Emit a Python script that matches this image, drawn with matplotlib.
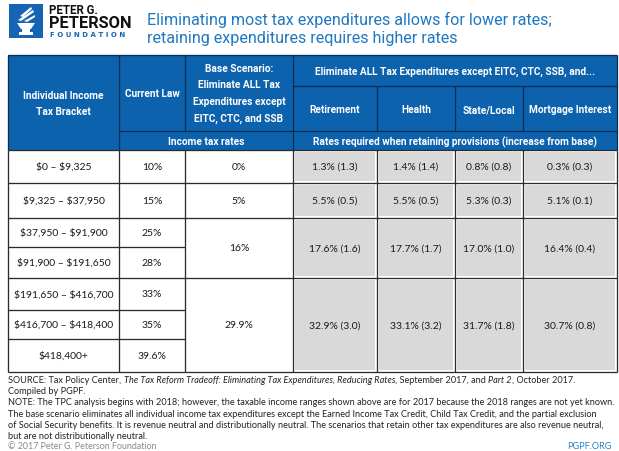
import matplotlib
matplotlib.use("Agg")
import matplotlib.pyplot as plt
from matplotlib.patches import Rectangle, Polygon

# -------------------------
# data
# -------------------------
brackets = ["$0 – $9,325", "$9,325 – $37,950", "$37,950 – $91,900",
            "$91,900 – $191,650", "$191,650 – $416,700",
            "$416,700 – $418,400", "$418,400+"]
current_law = [10, 15, 25, 28, 33, 35, 39.6]

# base scenario rates, and how many brackets each rate covers
base_rates = [0, 5, 16, 29.9]
base_span = [1, 1, 2, 3]

scenarios = ["Retirement", "Health", "State/Local", "Mortgage Interest"]
retirement = [1.3, 5.5, 17.6, 32.9]
health = [1.4, 5.5, 17.7, 33.1]
state_local = [0.8, 5.3, 17.0, 31.7]
mortgage = [0.3, 5.1, 16.4, 30.7]
scenario_rates = [retirement, health, state_local, mortgage]

title = ("Eliminating most tax expenditures allows for lower rates;\n"
         "retaining expenditures requires higher rates")

# -------------------------
# layout (pixels)
# -------------------------
W, H = 619, 452
col_x = [8, 119, 185, 293, 377, 455, 523, 617]
row_y = [151, 184, 219, 248, 279, 311, 340, 373]
head_top = 56

BLUE = "#0d62ad"
TITLE_BLUE = "#1f78c1"
GRAY = "#d9d9d9"
LINE = "#2b2b2b"

narrow = ["Roboto", "DejaVu Sans"]
body = ["Lato", "DejaVu Sans"]

fig = plt.figure(figsize=(W / 100, H / 100), dpi=100)
ax = fig.add_axes([0, 0, 1, 1])
ax.set_xlim(0, W)
ax.set_ylim(H, 0)
ax.axis("off")

px = 0.72  # one pixel in points


def hline(y, x0, x1, c=LINE, lw=1.3):
    ax.plot([x0, x1], [y, y], color=c, lw=lw * px, solid_capstyle="butt")


def vline(x, y0, y1, c=LINE, lw=1.3):
    ax.plot([x, x], [y0, y1], color=c, lw=lw * px, solid_capstyle="butt")


# -------------------------
# logo + title
# -------------------------
ax.add_patch(Rectangle((9, 5), 34, 34, color="#1565b4", lw=0))
# rough torch
ax.add_patch(Polygon([[17, 24], [35, 24], [31, 30], [21, 30]], color="white", lw=0))
ax.add_patch(Rectangle((22, 30), 8, 2.5, color="white", lw=0))
ax.add_patch(Rectangle((19, 33), 14, 2.5, color="white", lw=0))
ax.add_patch(Polygon([[18, 21], [33, 11], [34, 13], [21, 22]], color="white", lw=0))
ax.add_patch(Polygon([[20, 17], [31, 8], [32, 10], [23, 18]], color="white", lw=0))
ax.add_patch(Polygon([[24, 22], [35, 16], [35, 18], [27, 23]], color="white", lw=0))

ax.text(49, 11, "PETER G.", fontsize=8.3, fontweight="bold", family=narrow,
        va="center", ha="left", color="#111111")
ax.text(48.5, 23.5, "PETERSON", fontsize=11.8, fontweight="bold", family=narrow,
        va="center", ha="left", color="#111111")
ax.text(49.5, 35, "F O U N D A T I O N", fontsize=5.0, fontweight="bold",
        family=["DejaVu Sans"], va="center", ha="left", color="#1565b4")

ax.text(147, 28.5, title, fontsize=11.6, family=narrow, color=TITLE_BLUE,
        va="center", ha="left", linespacing=1.25)

# -------------------------
# header
# -------------------------
ax.add_patch(Rectangle((col_x[0], head_top), col_x[-1] - col_x[0],
                       row_y[0] - head_top, color=BLUE, lw=0))
hdr = dict(color="white", fontweight="bold", family=narrow, fontsize=7.3,
           ha="center", va="center")

ax.text((col_x[0] + col_x[1]) / 2, 104, "Individual Income\nTax Bracket",
        linespacing=1.85, **hdr)
ax.text((col_x[1] + col_x[2]) / 2, 94, "Current Law", **hdr)
ax.text((col_x[2] + col_x[3]) / 2, 94,
        "Base Scenario:\nEliminate ALL Tax\nExpenditures except\nEITC, CTC, and SSB",
        linespacing=1.85, **hdr)
ax.text((col_x[1] + col_x[3]) / 2, 142, "Income tax rates", **hdr)
ax.text((col_x[3] + col_x[-1]) / 2, 71.5,
        "Eliminate ALL Tax Expenditures except EITC, CTC, SSB, and...", **hdr)
for i, name in enumerate(scenarios):
    ax.text((col_x[3 + i] + col_x[4 + i]) / 2, 110, name, **hdr)
ax.text((col_x[3] + col_x[-1]) / 2, 142,
        "Rates required when retaining provisions (increase from base)", **hdr)

# header grid lines
HL = "#0a2f55"
hline(head_top, col_x[0], col_x[-1], HL)
hline(132, col_x[1], col_x[-1], HL)
hline(87, col_x[3], col_x[-1], HL)
for x in col_x[1:3]:
    vline(x, head_top, 132, HL)
vline(col_x[1], 132, row_y[0], HL)
vline(col_x[3], head_top, row_y[0], HL)
for x in col_x[4:7]:
    vline(x, 87, 132, HL)
vline(col_x[0], head_top, row_y[0], HL)
vline(col_x[-1], head_top, row_y[0], HL)

# -------------------------
# body
# -------------------------
txt = dict(color="#1a1a1a", family=body, fontsize=7.5, ha="center",
           va="center", parse_math=False)

for i, (b, c) in enumerate(zip(brackets, current_law)):
    yc = (row_y[i] + row_y[i + 1]) / 2
    ax.text((col_x[0] + col_x[1]) / 2, yc, b, **txt)
    ax.text((col_x[1] + col_x[2]) / 2, yc, f"{c:g}%", **txt)
    hline(row_y[i + 1], col_x[0], col_x[2])

start = 0
for g, (rate, span) in enumerate(zip(base_rates, base_span)):
    y0, y1 = row_y[start], row_y[start + span]
    yc = (y0 + y1) / 2
    ax.text((col_x[2] + col_x[3]) / 2, yc, f"{rate:g}%", **txt)
    for k, rates in enumerate(scenario_rates):
        x0, x1 = col_x[3 + k], col_x[4 + k]
        ax.add_patch(Rectangle((x0 + 1.8, y0 + 1.8), x1 - x0 - 3.6,
                               y1 - y0 - 3.6, color=GRAY, lw=0))
        inc = rates[g] - rate
        ax.text((x0 + x1) / 2, yc, f"{rates[g]:.1f}% ({inc:.1f})", **txt)
    hline(y1, col_x[2], col_x[-1])
    start += span

for x in col_x:
    vline(x, row_y[0], row_y[-1])
hline(row_y[0], col_x[0], col_x[-1])

# -------------------------
# footnotes
# -------------------------
note = dict(family=body, fontsize=6.6, color="#222222", ha="left",
            va="baseline", parse_math=False)
fig.canvas.draw()
r = fig.canvas.get_renderer()


def width_px(s, style="normal"):
    # measure with a trailing "x" so spaces count, then take the "x" off
    t = ax.text(0, 0, s + "x", fontstyle=style, **note)
    t2 = ax.text(0, 0, "x", fontstyle=style, **note)
    w = t.get_window_extent(r).width - t2.get_window_extent(r).width
    t.remove()
    t2.remove()
    return w


x = 8
parts = [("SOURCE: Tax Policy Center, ", "normal"),
         ("The Tax Reform Tradeoff: Eliminating Tax Expenditures, Reducing Rates", "italic"),
         (", September 2017, and ", "normal"),
         ("Part 2", "italic"),
         (", October 2017.", "normal")]
for s, style in parts:
    ax.text(x, 383, s, fontstyle=style, **note)
    x += width_px(s, style)

lines = ["Compiled by PGPF.",
         "NOTE: The TPC analysis begins with 2018; however, the taxable income ranges shown above are for 2017 because the 2018 ranges are not yet known.",
         "The base scenario eliminates all individual income tax expenditures except the Earned Income Tax Credit, Child Tax Credit, and the partial exclusion",
         "of Social Security benefits. It is revenue neutral and distributionally neutral. The scenarios that retain other tax expenditures are also revenue neutral,",
         "but are not distributionally neutral."]
for i, s in enumerate(lines):
    ax.text(8, 394.3 + i * 11.2, s, **note)

ax.text(8, 449.5, "© 2017 Peter G. Peterson Foundation", family=body,
        fontsize=6.4, color="#8a8a8a", ha="left", va="baseline")
ax.text(611, 449.5, "PGPF.ORG", family=body, fontsize=6.6, color="#2a7cc4",
        ha="right", va="baseline")

fig.savefig("out.png", dpi=100)
